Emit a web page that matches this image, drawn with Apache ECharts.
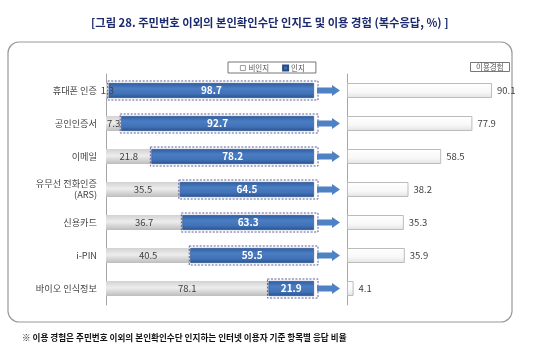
<!DOCTYPE html>
<html>
<head>
<meta charset="utf-8">
<script src="https://cdn.jsdelivr.net/npm/echarts@6/dist/echarts.min.js"></script>
<style>
  html, body { margin: 0; padding: 0; background: #fff; }
  #chart { width: 560px; height: 344px; }
</style>
</head>
<body>
<div id="chart"></div>
<script>
// 본인확인수단 인지도 및 이용 경험 (복수응답, %)
var categories = ['휴대폰 인증', '공인인증서', '이메일', '유무선 전화인증\n(ARS)', '신용카드', 'i-PIN', '바이오 인식정보'];
var unaware = [1.3, 7.3, 21.8, 35.5, 36.7, 40.5, 78.1];   // 비인지
var aware = [98.7, 92.7, 78.2, 64.5, 63.3, 59.5, 21.9];   // 인지
var usage = [90.1, 77.9, 58.5, 38.2, 35.3, 35.9, 4.1];    // 이용경험

var titleText = '[그림 28. 주민번호 이외의 본인확인수단 인지도 및 이용 경험 (복수응답, %) ]';
var noteText = '※ 이용 경험은 주민번호 이외의 본인확인수단 인지하는 인터넷 이용자 기준 항목별 응답 비율';

var FONT = '"Noto Sans CJK KR", "Noto Sans", sans-serif';
var GRID_TOP = 74, GRID_H = 231;

var grayFill = new echarts.graphic.LinearGradient(0, 0, 0, 1, [
  { offset: 0, color: '#d2d2d2' },
  { offset: 0.45, color: '#ededed' },
  { offset: 1, color: '#bdbdbd' }
]);
var blueFill = new echarts.graphic.LinearGradient(0, 0, 0, 1, [
  { offset: 0, color: '#2f5d9f' },
  { offset: 0.35, color: '#4a7dc3' },
  { offset: 0.7, color: '#4273b9' },
  { offset: 1, color: '#2a5390' }
]);
var whiteFill = new echarts.graphic.LinearGradient(0, 0, 0, 1, [
  { offset: 0, color: '#ffffff' },
  { offset: 0.6, color: '#f8f8f8' },
  { offset: 1, color: '#e2e2e2' }
]);

// dashed outline around the 인지 bar, plus the arrow pointing to 이용경험
function renderOutline(params, api) {
  var g = api.value(0);
  var cat = api.value(1);
  var start = api.coord([g, cat]);
  var end = api.coord([100, cat]);
  var cy = start[1];
  var h = 19;
  var ax = end[0] + 3;
  return {
    type: 'group',
    children: [
      {
        type: 'rect',
        shape: { x: start[0] - 1, y: cy - h / 2, width: end[0] - start[0] + 5, height: h },
        style: { fill: null, stroke: '#5b5b98', lineWidth: 1, lineDash: [2, 1.5] }
      },
      {
        type: 'polygon',
        shape: {
          points: [
            [ax, cy - 3], [ax + 15, cy - 3], [ax + 15, cy - 5.5],
            [ax + 23, cy], [ax + 15, cy + 5.5], [ax + 15, cy + 3], [ax, cy + 3]
          ]
        },
        style: { fill: '#4f82c4' }
      }
    ]
  };
}

var outlineData = unaware.map(function (v, i) { return [v, i]; });

var chart = echarts.init(document.getElementById('chart'), null, { renderer: 'canvas' });
chart.setOption({
  backgroundColor: '#fff',
  animation: false,
  title: [
    {
      text: titleText, left: 86, top: 12,
      textStyle: { fontFamily: FONT, fontSize: 11.3, fontWeight: 'bold', color: '#1c2a6e' }
    },
    {
      text: noteText, left: 17, top: 328,
      textStyle: { fontFamily: FONT, fontSize: 8.6, fontWeight: 'bold', color: '#111' }
    },
    {
      text: '이용경험', left: 470, top: 62,
      padding: [0, 6], borderColor: '#777', borderWidth: 1,
      textStyle: { fontFamily: FONT, fontSize: 7.5, fontWeight: 'normal', color: '#555', lineHeight: 10 }
    }
  ],
  legend: {
    data: [
      { name: '비인지', itemStyle: { color: '#fff', borderColor: '#888', borderWidth: 0.8 } },
      { name: '인지', itemStyle: { color: '#3f6fb3' } }
    ],
    left: 228, top: 62,
    padding: [1, 11, 0, 12],
    itemGap: 13,
    itemWidth: 5, itemHeight: 5,
    icon: 'rect',
    borderColor: '#777', borderWidth: 1,
    textStyle: { fontFamily: FONT, fontSize: 7.5, color: '#555', padding: [0, 0, 0, -2], lineHeight: 10 }
  },
  graphic: [
    {
      type: 'rect', z: -10,
      shape: { x: 8, y: 42, width: 504, height: 280, r: 11 },
      style: { fill: '#fff', stroke: '#9a9a9a', lineWidth: 1.2 }
    }
  ],
  grid: [
    { left: 106, width: 208, top: GRID_TOP, height: GRID_H },
    { left: 347, width: 161, top: GRID_TOP, height: GRID_H }
  ],
  xAxis: [
    { gridIndex: 0, type: 'value', min: 0, max: 100, show: false },
    { gridIndex: 1, type: 'value', min: 0, max: 100, show: false }
  ],
  yAxis: [
    {
      gridIndex: 0, type: 'category', data: categories, inverse: true,
      axisLine: { show: true, lineStyle: { color: '#a6a6a6', width: 1 } },
      axisTick: { show: false },
      axisLabel: { fontFamily: FONT, fontSize: 9.2, color: '#444', margin: 9, align: 'right', lineHeight: 11 }
    },
    {
      gridIndex: 1, type: 'category', data: categories, inverse: true,
      axisLine: { show: true, lineStyle: { color: '#a6a6a6', width: 1 } },
      axisTick: { show: false },
      axisLabel: { show: false }
    }
  ],
  series: [
    {
      name: '비인지', type: 'bar', stack: 'aw', xAxisIndex: 0, yAxisIndex: 0,
      data: unaware, barWidth: 15,
      itemStyle: { color: grayFill },
      label: {
        show: true, position: 'inside', fontFamily: FONT, fontSize: 9.5, color: '#404040'
      }
    },
    {
      name: '인지', type: 'bar', stack: 'aw', xAxisIndex: 0, yAxisIndex: 0,
      data: aware, barWidth: 15,
      itemStyle: { color: blueFill, borderColor: '#274d85', borderWidth: 0.6 },
      label: {
        show: true, position: 'inside', fontFamily: FONT, fontSize: 10, fontWeight: 'bold', color: '#fff'
      }
    },
    {
      name: 'outline', type: 'custom', xAxisIndex: 0, yAxisIndex: 0,
      renderItem: renderOutline, data: outlineData, encode: { x: 0, y: 1 },
      clip: false, z: 5, silent: true
    },
    {
      name: '이용경험', type: 'bar', xAxisIndex: 1, yAxisIndex: 1,
      data: usage, barWidth: 15,
      itemStyle: { color: whiteFill, borderColor: '#bcbcbc', borderWidth: 1 },
      label: {
        show: true, position: 'right', distance: 5, fontFamily: FONT, fontSize: 9.5, color: '#404040'
      }
    }
  ]
});
</script>
</body>
</html>
